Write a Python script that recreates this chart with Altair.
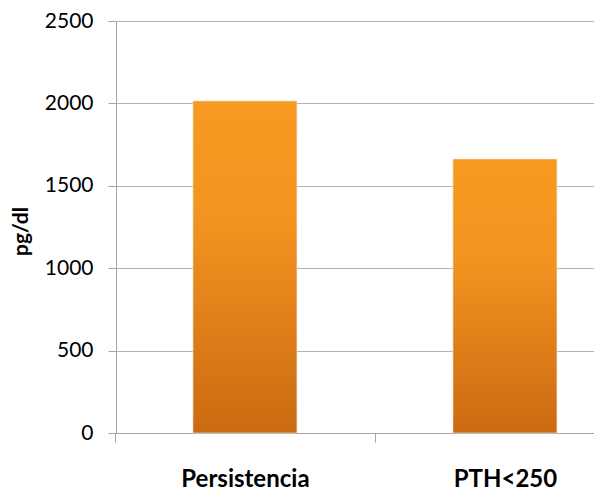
import altair as alt
import pandas as pd

categories = ["Persistencia", "PTH<250"]
values = [2015, 1663]
y_ticks = [0, 500, 1000, 1500, 2000, 2500]

df = pd.DataFrame({"cat": categories, "val": values})

grad = alt.Gradient(
    gradient="linear",
    x1=0, y1=0, x2=0, y2=1,
    stops=[
        alt.GradientStop(color="#F89A20", offset=0),
        alt.GradientStop(color="#F39420", offset=0.35),
        alt.GradientStop(color="#CC6A12", offset=1),
    ],
)

FONT = "Lato"

chart = alt.Chart(df).mark_bar(color=grad, stroke="#E8E8E8", strokeWidth=1, strokeOpacity=0.6).encode(
    x=alt.X(
        "cat:N",
        sort=categories,
        scale=alt.Scale(paddingInner=0.6, paddingOuter=0.2192, align=0.675),
        axis=alt.Axis(
            title=None,
            labelAngle=0,
            labelFont=FONT,
            labelFontSize=24,
            labelFontWeight="bold",
            labelColor="#000000",
            labelPadding=25,
            labelOffset=130,
            domainColor="#A6A6A6",
            tickColor="#A6A6A6",
            tickSize=9,
            tickOffset=-130,
            grid=False,
        ),
    ),
    y=alt.Y(
        "val:Q",
        scale=alt.Scale(domain=[0, 2500], nice=False),
        axis=alt.Axis(
            title="pg/dl",
            values=y_ticks,
            format="d",
            titleFont=FONT,
            titleFontSize=21,
            titleFontWeight="bold",
            titleColor="#000000",
            titleAngle=270,
            titleX=-95,
            titleY=210,
            titleAlign="center",
            titleBaseline="middle",
            labelFont=FONT,
            labelFontSize=21,
            labelColor="#000000",
            labelPadding=15,
            tickSize=8,
            tickColor="#A6A6A6",
            domainColor="#A6A6A6",
            gridColor="#B4B4B4",
            gridWidth=1,
        ),
    ),
).properties(
    width=478,
    height=412,
    autosize=alt.AutoSizeParams(type="none"),
    padding={"left": 108, "top": 13, "right": 0, "bottom": 60},
).configure_view(stroke=None).configure(background="white")

chart.save("out.html", embed_options={"renderer": "svg", "actions": False})
